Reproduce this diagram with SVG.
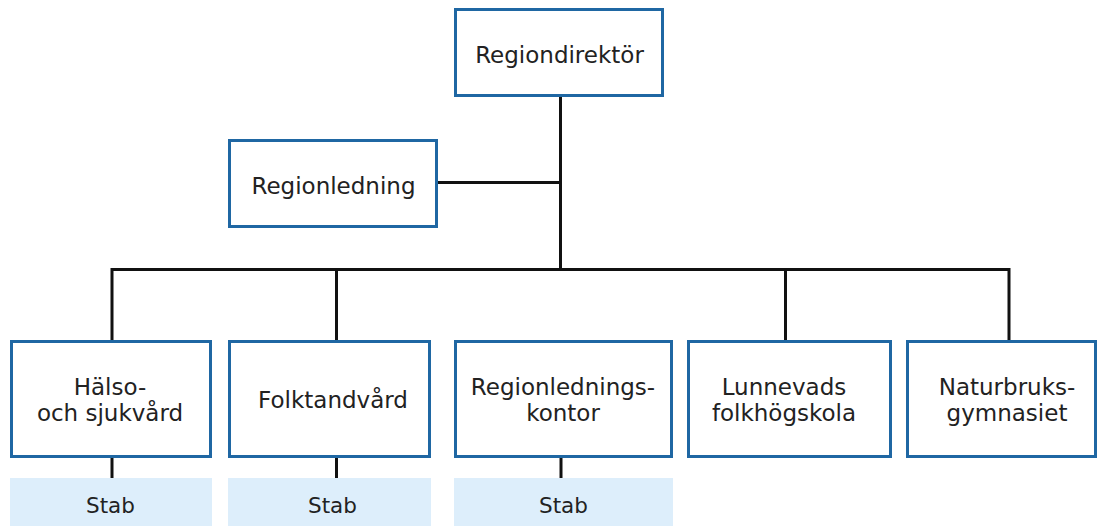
<svg xmlns="http://www.w3.org/2000/svg" width="1097" height="526" viewBox="0 0 1097 526">
<style>
.box{fill:#ffffff;stroke:#1f67a3;stroke-width:3}
.stab{fill:#ddeefb}
.t{font-family:"DejaVu Sans",Verdana,sans-serif;font-size:23px;fill:#222222;text-anchor:middle}
.ts{font-family:"DejaVu Sans",Verdana,sans-serif;font-size:21.5px;fill:#222222;text-anchor:middle}
.c{stroke:#111111;stroke-width:3;fill:none}
</style>
<rect width="1097" height="526" fill="#ffffff"/>
<g id="connectors">
<path class="c" d="M560.5 97 V269.5"/>
<path class="c" d="M438 182.5 H560.5"/>
<path class="c" d="M112 340 V269.5 H1009 V340"/>
<path class="c" d="M336.5 269.5 V340"/>
<path class="c" d="M785.5 269.5 V340"/>
<path class="c" d="M112 458 V478"/>
<path class="c" d="M336.5 458 V478"/>
<path class="c" d="M561 458 V478"/>
</g>
<g id="regiondirektor">
<rect class="box" x="455.5" y="9.5" width="207" height="86"/>
<text class="t" x="559.5" y="63">Regiondirektör</text>
</g>
<g id="regionledning">
<rect class="box" x="229.5" y="140.5" width="207" height="86"/>
<text class="t" x="333.5" y="194">Regionledning</text>
</g>
<g id="halso">
<rect class="box" x="11.5" y="341.5" width="199" height="115"/>
<text class="t" x="110" y="395">Hälso-</text>
<text class="t" x="110" y="421">och sjukvård</text>
</g>
<g id="folktandvard">
<rect class="box" x="229.5" y="341.5" width="200" height="115"/>
<text class="t" x="333" y="408">Folktandvård</text>
</g>
<g id="regionledningskontor">
<rect class="box" x="455.5" y="341.5" width="216" height="115"/>
<text class="t" x="563" y="395">Regionlednings-</text>
<text class="t" x="563" y="421">kontor</text>
</g>
<g id="lunnevads">
<rect class="box" x="688.5" y="341.5" width="202" height="115"/>
<text class="t" x="784" y="395">Lunnevads</text>
<text class="t" x="784" y="421">folkhögskola</text>
</g>
<g id="naturbruks">
<rect class="box" x="907.5" y="341.5" width="188" height="115"/>
<text class="t" x="1007" y="395">Naturbruks-</text>
<text class="t" x="1007" y="421">gymnasiet</text>
</g>
<g id="stab1">
<rect class="stab" x="10" y="478" width="202" height="48"/>
<text class="ts" x="110.5" y="513">Stab</text>
</g>
<g id="stab2">
<rect class="stab" x="228" y="478" width="203" height="48"/>
<text class="ts" x="332.5" y="513">Stab</text>
</g>
<g id="stab3">
<rect class="stab" x="454" y="478" width="219" height="48"/>
<text class="ts" x="563.5" y="513">Stab</text>
</g>
</svg>
